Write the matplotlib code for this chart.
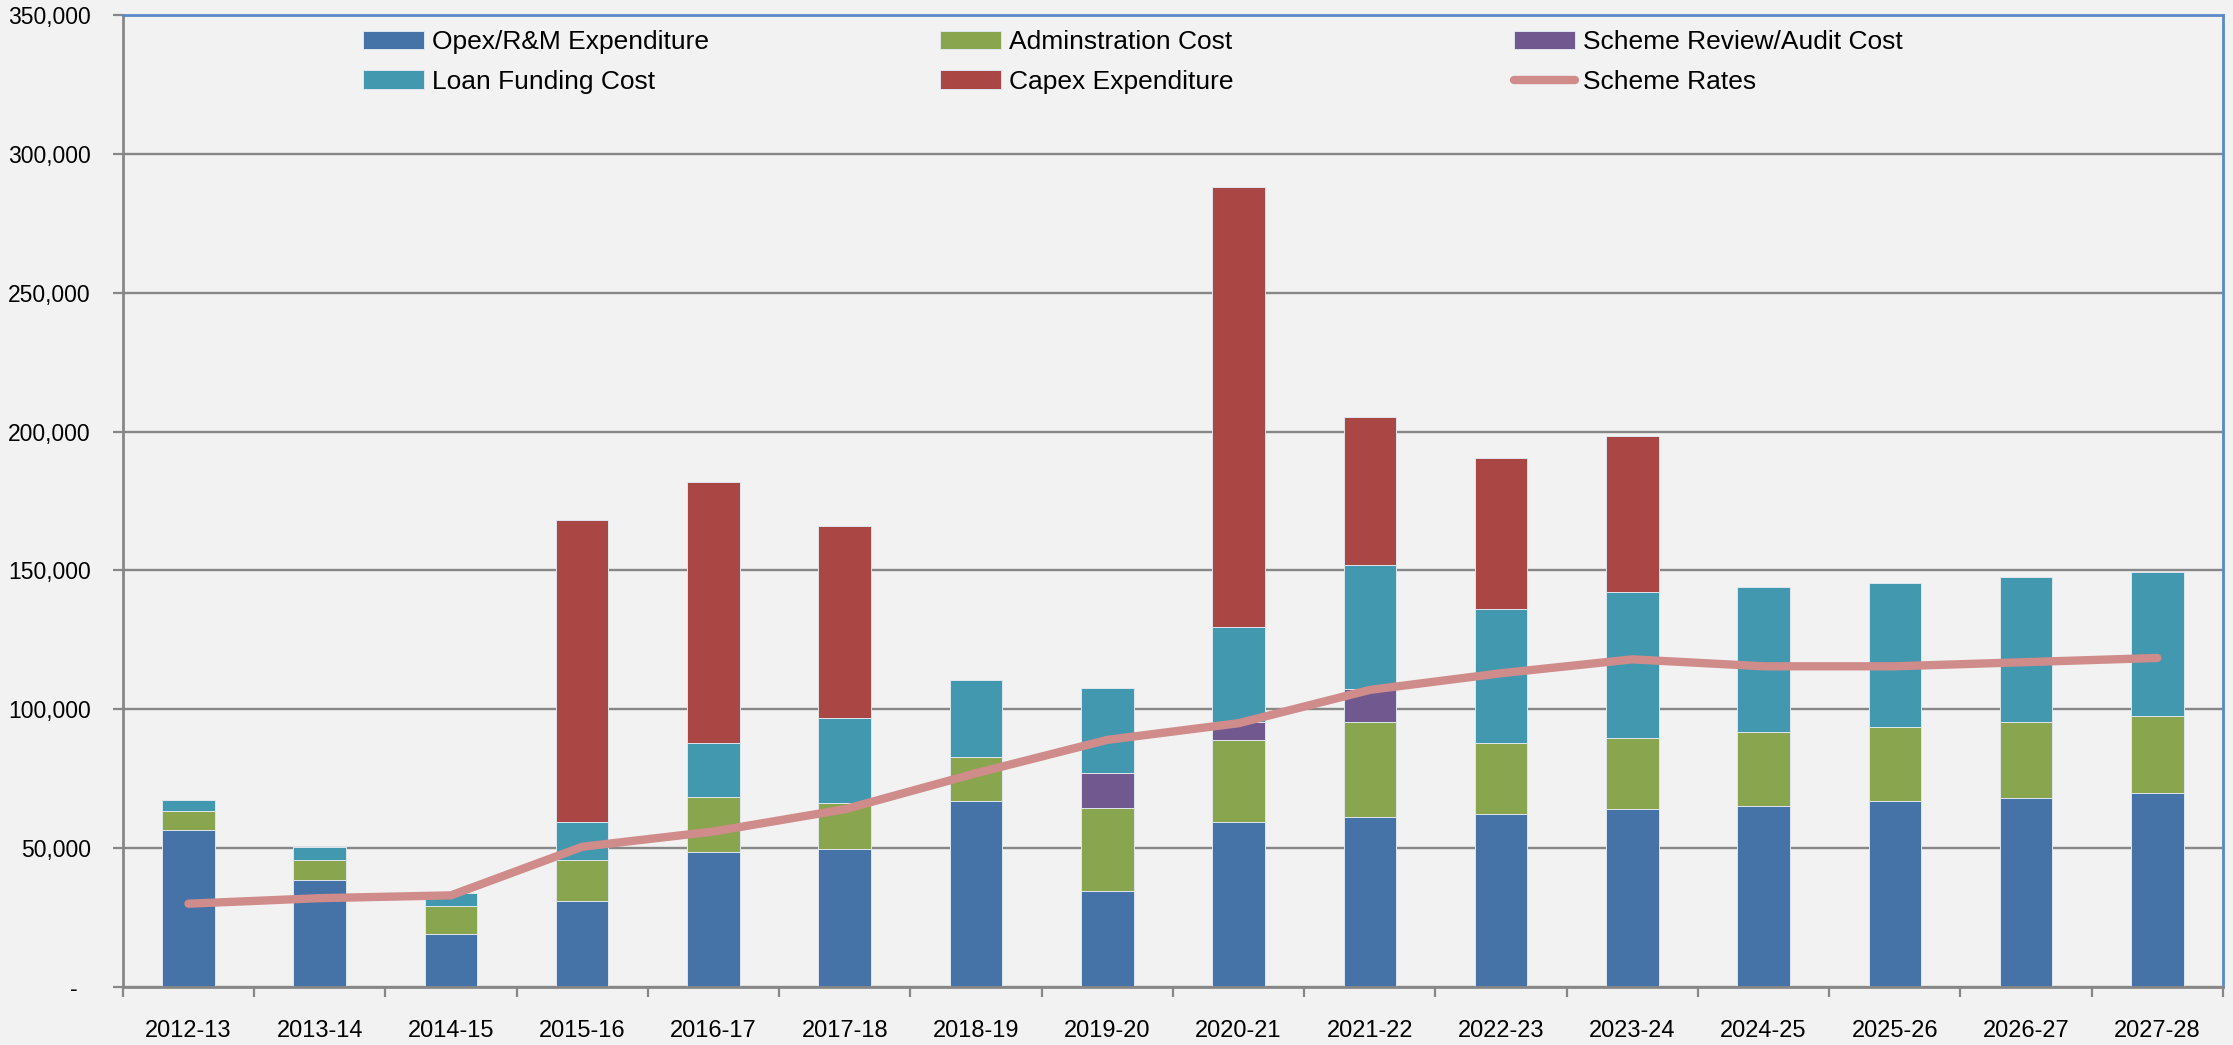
import numpy as np
import matplotlib
matplotlib.use('Agg')
from matplotlib import pyplot as plt
from matplotlib.ticker import FixedLocator, FuncFormatter

years = ['2012-13', '2013-14', '2014-15', '2015-16', '2016-17', '2017-18', '2018-19', '2019-20',
         '2020-21', '2021-22', '2022-23', '2023-24', '2024-25', '2025-26', '2026-27', '2027-28']
opex = [56500, 38700, 19100, 31000, 48600, 49600, 67100, 34700, 59400, 61200, 62300, 64200, 65200, 67000, 68000, 69900]
admin = [6900, 7100, 9900, 14700, 19800, 16700, 15900, 29800, 29500, 34300, 25400, 25500, 26600, 26700, 27600, 27800]
audit = [0, 0, 0, 0, 0, 0, 0, 12600, 6500, 11800, 0, 0, 0, 0, 0, 0]
loan = [3900, 4800, 4900, 13700, 19600, 30500, 27500, 30500, 34100, 44500, 48600, 52600, 52200, 51900, 51900, 51800]
capex = [0, 0, 0, 108700, 93800, 69400, 0, 0, 158600, 53300, 54300, 56300, 0, 0, 0, 0]
rates = [30000, 32000, 33000, 50500, 56000, 64000, 77000, 89000, 95000, 107000, 113000, 118000, 115500, 115500, 117000, 118500]

bg = '#f2f2f2'
grid_c = '#878787'
sans = ['Liberation Sans', 'DejaVu Sans']

fig = plt.figure(figsize=(22.33, 10.45), dpi=100, facecolor=bg)
ax = fig.add_axes([0.055, 0.0555, 0.9405, 0.93], facecolor=bg)

x = np.arange(len(years))
w = 0.4
edge = dict(edgecolor='#dfe6ee', linewidth=0.7)
bottom = np.zeros(len(years))
series = [
    (opex, '#4572a7', 'Opex/R&M Expenditure'),
    (admin, '#89a54e', 'Adminstration Cost'),
    (audit, '#71588f', 'Scheme Review/Audit Cost'),
    (loan, '#4198af', 'Loan Funding Cost'),
    (capex, '#aa4643', 'Capex Expenditure'),
]
handles = {}
for vals, col, lab in series:
    vals = np.array(vals, dtype=float)
    b = ax.bar(x, vals, w, bottom=bottom, color=col, label=lab, zorder=2, **edge)
    handles[lab] = b
    bottom += vals

ln, = ax.plot(x, rates, color='#d08b8b', lw=6, solid_capstyle='round',
              solid_joinstyle='round', zorder=3, label='Scheme Rates')
handles['Scheme Rates'] = ln

ax.set_xlim(-0.5, len(years) - 0.5)
ax.set_ylim(0, 350000)
ax.set_yticks(np.arange(0, 350001, 50000))
ax.yaxis.set_major_formatter(FuncFormatter(lambda v, p: '-  ' if v == 0 else f'{int(v):,}'))
ax.grid(axis='y', color=grid_c, lw=1.7)
ax.set_axisbelow(True)

ax.set_xticks(x)
ax.set_xticklabels(years, family=sans, fontsize=17)
ax.xaxis.set_minor_locator(FixedLocator(np.arange(-0.5, len(years), 1.0)))
ax.tick_params(axis='x', which='major', length=0, pad=24)
ax.tick_params(axis='x', which='minor', length=7, width=1.6, color=grid_c, direction='out')
ax.tick_params(axis='y', length=7, width=1.6, color=grid_c, direction='out', pad=16, labelsize=16.5)
for t in ax.get_yticklabels():
    t.set_family(sans)

for s in ['left', 'bottom']:
    ax.spines[s].set_color(grid_c)
    ax.spines[s].set_linewidth(2)
for s in ['top', 'right']:
    ax.spines[s].set_color('#5b8ac6')
    ax.spines[s].set_linewidth(2)

# legend: three columns placed like the original
cols = [
    (['Opex/R&M Expenditure', 'Loan Funding Cost'], 0.1626),
    (['Adminstration Cost', 'Capex Expenditure'], 0.421),
    (['Scheme Review/Audit Cost', 'Scheme Rates'], 0.678),
]
for labs, xpos in cols:
    leg = fig.legend([handles[l] for l in labs], labs, loc='upper left',
                     bbox_to_anchor=(xpos, 0.9713), frameon=False,
                     borderpad=0, borderaxespad=0, handlelength=2.3, handletextpad=0.3,
                     labelspacing=0.6, prop={'family': sans, 'size': 19})

fig.savefig('out.png', dpi=100, facecolor=bg)
